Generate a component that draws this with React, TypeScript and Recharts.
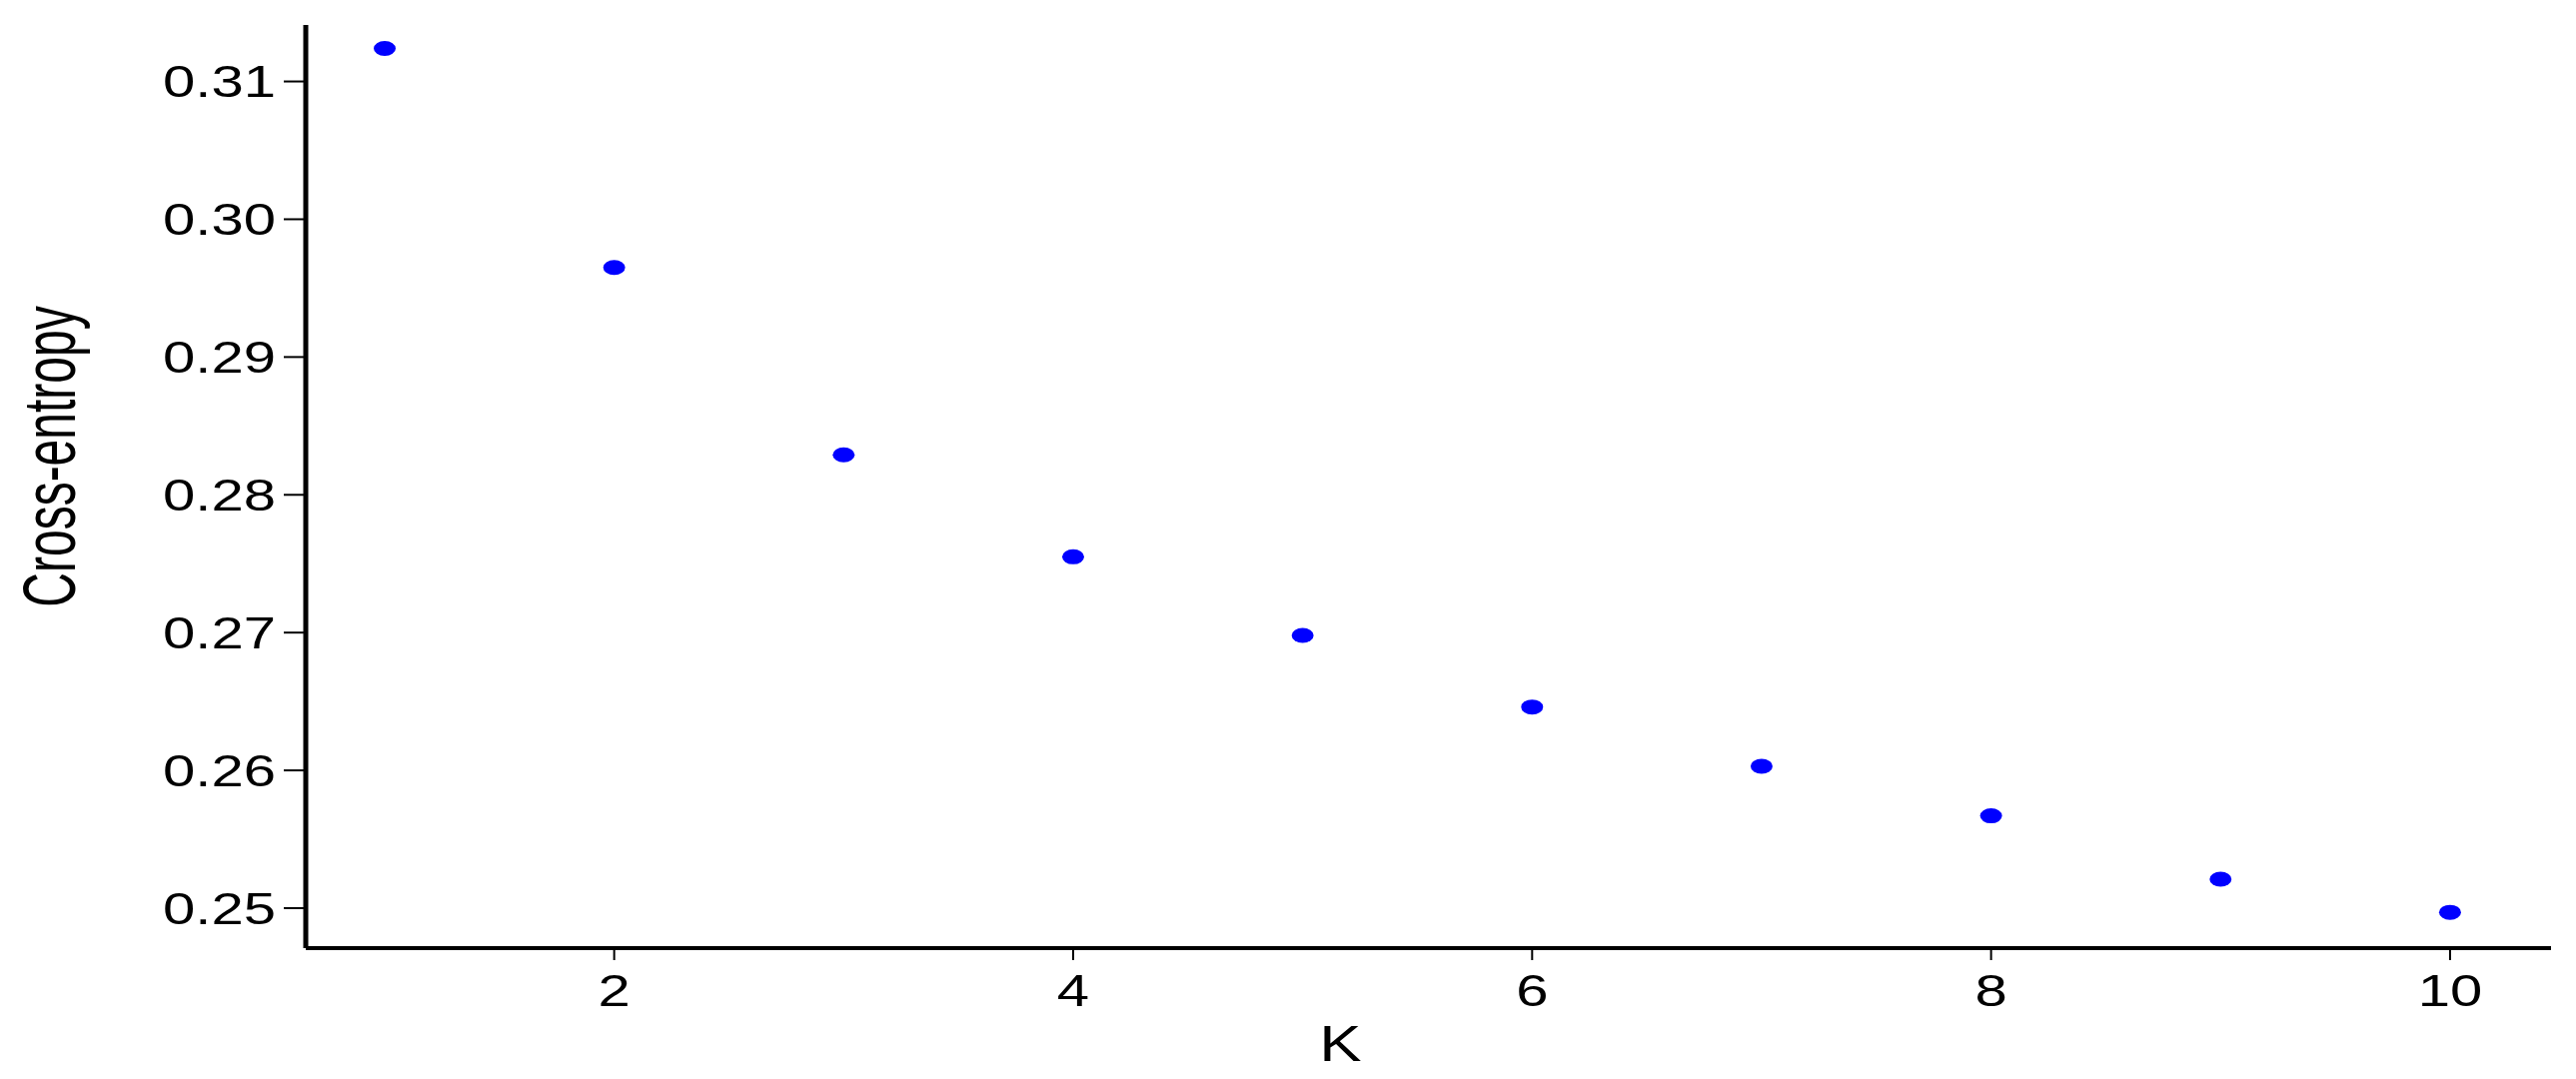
import { ScatterChart, Scatter, XAxis, YAxis } from 'recharts';

// cross-entropy per number of ancestral clusters K
const kValues = [1, 2, 3, 4, 5, 6, 7, 8, 9, 10];
const crossEntropy = [0.3124, 0.2965, 0.2829, 0.2755, 0.2698, 0.2646, 0.2603, 0.2567, 0.2521, 0.2497];
const xTicks = [2, 4, 6, 8, 10];
const yTicks = [0.25, 0.26, 0.27, 0.28, 0.29, 0.3, 0.31];

const data = kValues.map((k, i) => ({ k, ce: crossEntropy[i] }));

const FONT = '"Liberation Sans", Arial, sans-serif';
const STRETCH = 1.32; // source image is stretched horizontally

function YTick({ x, y, payload }: any) {
  return (
    <text
      transform={`translate(${x},${y}) scale(${STRETCH},1)`}
      textAnchor="end"
      dy="0.36em"
      fontSize={44}
      fontFamily={FONT}
      fill="#000"
    >
      {payload.value.toFixed(2)}
    </text>
  );
}

function XTick({ x, y, payload }: any) {
  return (
    <text
      transform={`translate(${x},${y}) scale(${STRETCH},1)`}
      textAnchor="middle"
      dy={32}
      fontSize={44}
      fontFamily={FONT}
      fill="#000"
    >
      {payload.value}
    </text>
  );
}

function Dot({ cx, cy }: any) {
  return <ellipse cx={cx} cy={cy} rx={11} ry={7.5} fill="#0000ff" />;
}

export default function App() {
  return (
    <div style={{ position: 'absolute', left: 0, top: 0, background: '#fff' }}>
      <ScatterChart
        width={2578}
        height={1080}
        margin={{ top: 25, right: 25, left: 0, bottom: 0 }}
      >
        <XAxis
          type="number"
          dataKey="k"
          domain={[0.656, 10.44]}
          ticks={xTicks}
          height={131}
          tickSize={12}
          tickMargin={14}
          tick={<XTick />}
          axisLine={{ stroke: '#000', strokeWidth: 4 }}
          tickLine={{ stroke: '#000', strokeWidth: 2 }}
          allowDataOverflow
          label={{
            content: ({ viewBox }: any) => (
              <text
                transform={`translate(${viewBox.x + viewBox.width / 2 - 88},${viewBox.y + 113}) scale(1.27,1)`}
                textAnchor="middle"
                fontSize={50}
                fontFamily={FONT}
                fill="#000"
              >
                K
              </text>
            ),
          }}
        />
        <YAxis
          type="number"
          dataKey="ce"
          domain={[0.2471, 0.3141]}
          ticks={yTicks}
          width={306}
          tickSize={22}
          tickMargin={8}
          tick={<YTick />}
          axisLine={{ stroke: '#000', strokeWidth: 5 }}
          tickLine={{ stroke: '#000', strokeWidth: 2 }}
          allowDataOverflow
          label={{
            content: ({ viewBox }: any) => (
              <text
                transform={`translate(48,${viewBox.y + viewBox.height / 2 - 30}) scale(1.54,1) rotate(-90)`}
                textAnchor="middle"
                dy="0.36em"
                fontSize={48}
                fontFamily={FONT}
                fill="#000"
              >
                Cross-entropy
              </text>
            ),
          }}
        />
        <Scatter data={data} shape={<Dot />} isAnimationActive={false} />
      </ScatterChart>
    </div>
  );
}
